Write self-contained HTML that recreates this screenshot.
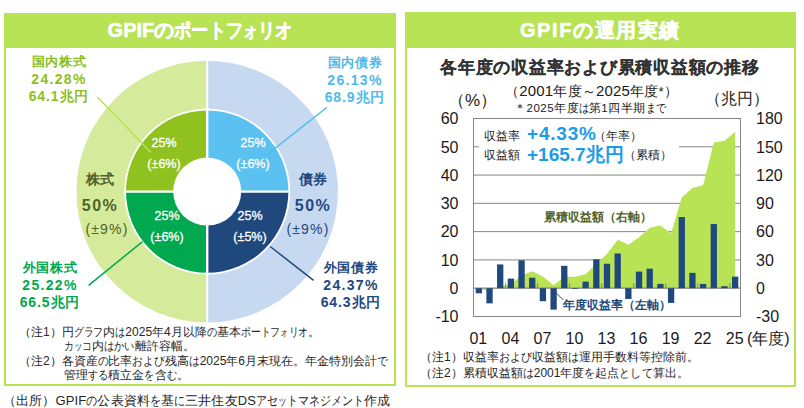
<!DOCTYPE html>
<html><head><meta charset="utf-8">
<style>
html,body{margin:0;padding:0;background:#fff;}
body{width:804px;height:408px;position:relative;overflow:hidden;font-family:"Liberation Sans",sans-serif;}
.abs,.lab,.q,.note,.yl,.yr,.xl{position:absolute;white-space:nowrap;}
.panel{position:absolute;box-sizing:border-box;border:2px solid #B7E354;}
.hdr{position:absolute;background:#B7E354;color:#fff;font-weight:bold;text-align:center;white-space:nowrap;-webkit-text-stroke:0.5px #fff;}
svg{position:absolute;left:0;top:0;}
.k1{font-size:13px;letter-spacing:0.6px;}
.d1{letter-spacing:1.3px;}
.d2{letter-spacing:0.9px;}
i{font-style:normal;display:inline-block;transform-origin:0 50%;}
.yl{left:400px;width:58.5px;text-align:right;font-size:16px;line-height:20px;color:#1a1a1a;}
.yr{left:756px;text-align:left;font-size:16px;line-height:20px;color:#1a1a1a;}
.xl{top:329px;width:40px;text-align:center;font-size:16px;line-height:20px;color:#1a1a1a;}
</style></head><body>
<div class="panel" style="left:4px;top:13px;width:392px;height:373px;"></div>
<div class="hdr" style="left:4px;top:13px;width:392px;height:35px;font-size:20px;line-height:35px;">GPIFの<i style="width:0.86em;transform:scaleX(0.86)">ポ</i><i style="width:0.86em;transform:scaleX(0.86)">ー</i><i style="width:0.86em;transform:scaleX(0.86)">ト</i><i style="width:0.86em;transform:scaleX(0.86)">フ</i><i style="width:0.75em;transform:scaleX(0.75)">ォ</i><i style="width:0.86em;transform:scaleX(0.86)">リ</i><i style="width:0.86em;transform:scaleX(0.86)">オ</i></div>
<div class="panel" style="left:405px;top:12px;width:391px;height:375px;"></div>
<div class="hdr" style="left:405px;top:12px;width:391px;height:36px;font-size:20px;line-height:37px;letter-spacing:1.6px;">GPIFの運用実績</div>
<svg width="804" height="408" viewBox="0 0 804 408">
<path d="M207.20,191.60 L207.20,60.80 A130.8,130.8 0 0 0 207.20,322.40 Z" fill="#D5EB9B"/>
<path d="M207.20,191.60 L207.20,322.40 A130.8,130.8 0 0 0 207.20,60.80 Z" fill="#C6D9F1"/>
<line x1="207.2" y1="59.79999999999998" x2="207.2" y2="323.4" stroke="#fff" stroke-width="2"/>
<circle cx="207.2" cy="191.6" r="83.0" fill="#fff"/>
<path d="M207.20,191.60 L207.20,110.40 A81.2,81.2 0 0 0 126.00,191.60 Z" fill="#8FC21F"/>
<path d="M207.20,191.60 L288.40,191.60 A81.2,81.2 0 0 0 207.20,110.40 Z" fill="#5BC1F0"/>
<path d="M207.20,191.60 L126.00,191.60 A81.2,81.2 0 0 0 207.20,272.80 Z" fill="#00A84F"/>
<path d="M207.20,191.60 L207.20,272.80 A81.2,81.2 0 0 0 288.40,191.60 Z" fill="#1F487D"/>
<line x1="207.2" y1="108.6" x2="207.2" y2="274.6" stroke="#fff" stroke-width="2.4"/>
<line x1="124.19999999999999" y1="191.6" x2="290.2" y2="191.6" stroke="#fff" stroke-width="2.4"/>
<circle cx="207.2" cy="191.6" r="34.0" fill="#fff"/>
<line x1="97.2" y1="96.7" x2="150.6" y2="152.3" stroke="#B7E354" stroke-width="1.5"/>
<line x1="326.8" y1="107.5" x2="266.8" y2="154.8" stroke="#55BBEE" stroke-width="1.5"/>
<line x1="88.6" y1="285.3" x2="142.5" y2="241.7" stroke="#00A84F" stroke-width="1.5"/>
<line x1="270.2" y1="246.5" x2="313.6" y2="280.3" stroke="#1F487D" stroke-width="1.5"/>
<line x1="473.5" y1="118.49" x2="740.5" y2="118.49" stroke="#868686" stroke-width="1"/>
<line x1="473.5" y1="146.77" x2="740.5" y2="146.77" stroke="#868686" stroke-width="1"/>
<line x1="473.5" y1="175.06" x2="740.5" y2="175.06" stroke="#868686" stroke-width="1"/>
<line x1="473.5" y1="203.34" x2="740.5" y2="203.34" stroke="#868686" stroke-width="1"/>
<line x1="473.5" y1="231.63" x2="740.5" y2="231.63" stroke="#868686" stroke-width="1"/>
<line x1="473.5" y1="259.91" x2="740.5" y2="259.91" stroke="#868686" stroke-width="1"/>
<line x1="473.5" y1="316.49" x2="740.5" y2="316.49" stroke="#868686" stroke-width="1"/>
<polygon points="478.84,288.20 478.84,288.76 489.52,291.07 500.20,286.46 510.88,283.99 521.56,275.53 532.24,271.32 542.92,276.53 553.60,285.34 564.28,276.69 574.96,276.72 585.64,274.26 596.32,263.68 607.00,254.05 617.68,239.63 628.36,244.66 639.04,237.18 649.72,227.68 660.40,225.43 671.08,233.24 681.76,197.60 692.44,188.09 703.12,185.32 713.80,142.50 724.48,140.87 735.16,131.97 735.16,288.20" fill="#B7E354"/>
<rect x="479" y="124" width="200" height="44" fill="#fff"/>
<rect x="473.5" y="118.5" width="267.0" height="198.0" fill="none" stroke="#868686" stroke-width="1"/>
<line x1="473.5" y1="288.2" x2="740.5" y2="288.2" stroke="#868686" stroke-width="1.2"/>
<line x1="505.54" y1="283.2" x2="505.54" y2="288.2" stroke="#868686" stroke-width="1"/>
<line x1="537.58" y1="283.2" x2="537.58" y2="288.2" stroke="#868686" stroke-width="1"/>
<line x1="569.62" y1="283.2" x2="569.62" y2="288.2" stroke="#868686" stroke-width="1"/>
<line x1="601.66" y1="283.2" x2="601.66" y2="288.2" stroke="#868686" stroke-width="1"/>
<line x1="633.70" y1="283.2" x2="633.70" y2="288.2" stroke="#868686" stroke-width="1"/>
<line x1="665.74" y1="283.2" x2="665.74" y2="288.2" stroke="#868686" stroke-width="1"/>
<line x1="697.78" y1="283.2" x2="697.78" y2="288.2" stroke="#868686" stroke-width="1"/>
<line x1="729.82" y1="283.2" x2="729.82" y2="288.2" stroke="#868686" stroke-width="1"/>
<rect x="475.69" y="288.20" width="6.3" height="5.09" fill="#1F497D"/>
<rect x="486.37" y="288.20" width="6.3" height="15.16" fill="#1F497D"/>
<rect x="497.05" y="264.44" width="6.3" height="23.76" fill="#1F497D"/>
<rect x="507.73" y="278.61" width="6.3" height="9.59" fill="#1F497D"/>
<rect x="518.41" y="260.25" width="6.3" height="27.95" fill="#1F497D"/>
<rect x="529.09" y="277.73" width="6.3" height="10.47" fill="#1F497D"/>
<rect x="539.77" y="288.20" width="6.3" height="12.98" fill="#1F497D"/>
<rect x="550.45" y="288.20" width="6.3" height="21.41" fill="#1F497D"/>
<rect x="561.13" y="265.83" width="6.3" height="22.37" fill="#1F497D"/>
<rect x="571.81" y="288.20" width="6.3" height="0.71" fill="#1F497D"/>
<rect x="582.49" y="281.64" width="6.3" height="6.56" fill="#1F497D"/>
<rect x="593.17" y="259.26" width="6.3" height="28.94" fill="#1F497D"/>
<rect x="603.85" y="263.76" width="6.3" height="24.44" fill="#1F497D"/>
<rect x="614.53" y="253.49" width="6.3" height="34.71" fill="#1F497D"/>
<rect x="625.21" y="288.20" width="6.3" height="10.78" fill="#1F497D"/>
<rect x="635.89" y="271.62" width="6.3" height="16.58" fill="#1F497D"/>
<rect x="646.57" y="268.68" width="6.3" height="19.52" fill="#1F497D"/>
<rect x="657.25" y="283.90" width="6.3" height="4.30" fill="#1F497D"/>
<rect x="667.93" y="288.20" width="6.3" height="14.71" fill="#1F497D"/>
<rect x="678.61" y="217.06" width="6.3" height="71.14" fill="#1F497D"/>
<rect x="689.29" y="272.87" width="6.3" height="15.33" fill="#1F497D"/>
<rect x="699.97" y="283.96" width="6.3" height="4.24" fill="#1F497D"/>
<rect x="710.65" y="224.08" width="6.3" height="64.12" fill="#1F497D"/>
<rect x="721.33" y="286.19" width="6.3" height="2.01" fill="#1F497D"/>
<rect x="732.01" y="276.63" width="6.3" height="11.57" fill="#1F497D"/>
<line x1="556.1" y1="292.8" x2="563.2" y2="299.9" stroke="#1F497D" stroke-width="1"/>
</svg>
<div class="lab" style="left:19px;top:53px;font-weight:bold;font-size:14px;line-height:17.6px;text-align:center;width:80px;color:#8CBF1E;"><span class="k1">国内株式</span><br><span class="d1">24.28%</span><br><span class="d2">64.1兆円</span></div>
<div class="lab" style="left:315px;top:54px;font-weight:bold;font-size:14px;line-height:17.6px;text-align:center;width:80px;color:#50B9EA;"><span class="k1">国内債券</span><br><span class="d1">26.13%</span><br><span class="d2">68.9兆円</span></div>
<div class="lab" style="left:60px;top:171px;font-weight:bold;font-size:14px;line-height:17.6px;text-align:center;width:80px;color:#4F6228;">株式</div>
<div class="lab" style="left:60px;top:195px;font-weight:bold;font-size:14px;line-height:17.6px;text-align:center;width:80px;color:#4F6228;font-size:16px;line-height:22px;letter-spacing:1.5px;">50%</div>
<div class="lab" style="left:67px;top:221px;font-weight:bold;font-size:14px;line-height:17.6px;text-align:center;width:80px;color:#4F6228;font-size:14px;font-weight:normal;letter-spacing:1.2px;">(±9%)</div>
<div class="lab" style="left:273px;top:171px;font-weight:bold;font-size:14px;line-height:17.6px;text-align:center;width:80px;color:#1F487D;">債券</div>
<div class="lab" style="left:273px;top:195px;font-weight:bold;font-size:14px;line-height:17.6px;text-align:center;width:80px;color:#1F487D;font-size:16px;line-height:22px;letter-spacing:1.5px;">50%</div>
<div class="lab" style="left:268px;top:221px;font-weight:bold;font-size:14px;line-height:17.6px;text-align:center;width:80px;color:#1F487D;font-size:14px;font-weight:normal;letter-spacing:1.2px;">(±9%)</div>
<div class="lab" style="left:10px;top:259px;font-weight:bold;font-size:14px;line-height:17.6px;text-align:center;width:80px;color:#00A84F;"><span class="k1">外国株式</span><br><span class="d1">25.22%</span><br><span class="d2">66.5兆円</span></div>
<div class="lab" style="left:311px;top:259px;font-weight:bold;font-size:14px;line-height:17.6px;text-align:center;width:80px;color:#1F487D;"><span class="k1">外国債券</span><br><span class="d1">24.37%</span><br><span class="d2">64.3兆円</span></div>
<div class="q" style="left:134px;top:132.5px;color:#fff;font-size:12.5px;line-height:21px;text-align:center;width:60px;-webkit-text-stroke:0.3px #fff;">25%<br>(±6%)</div>
<div class="q" style="left:223px;top:132.5px;color:#fff;font-size:12.5px;line-height:21px;text-align:center;width:60px;-webkit-text-stroke:0.3px #fff;">25%<br>(±6%)</div>
<div class="q" style="left:137px;top:205.5px;color:#fff;font-size:12.5px;line-height:21px;text-align:center;width:60px;-webkit-text-stroke:0.3px #fff;">25%<br>(±6%)</div>
<div class="q" style="left:220px;top:205.5px;color:#fff;font-size:12.5px;line-height:21px;text-align:center;width:60px;-webkit-text-stroke:0.3px #fff;">25%<br>(±5%)</div>
<div class="note" style="left:19px;top:325px;font-size:12px;line-height:14px;color:#262626;">（注1）円<i style="width:0.82em;transform:scaleX(0.82)">グ</i><i style="width:0.82em;transform:scaleX(0.82)">ラ</i><i style="width:0.82em;transform:scaleX(0.82)">フ</i>内<i style="width:0.85em;transform:scaleX(0.85)">は</i>2025年4月以降<i style="width:0.85em;transform:scaleX(0.85)">の</i>基本<i style="width:0.82em;transform:scaleX(0.82)">ポ</i><i style="width:0.82em;transform:scaleX(0.82)">ー</i><i style="width:0.82em;transform:scaleX(0.82)">ト</i><i style="width:0.82em;transform:scaleX(0.82)">フ</i><i style="width:0.7em;transform:scaleX(0.7)">ォ</i><i style="width:0.82em;transform:scaleX(0.82)">リ</i><i style="width:0.82em;transform:scaleX(0.82)">オ</i>。</div>
<div class="note" style="left:64px;top:339px;font-size:12px;line-height:14px;color:#262626;"><i style="width:0.82em;transform:scaleX(0.82)">カ</i><i style="width:0.7em;transform:scaleX(0.7)">ッ</i><i style="width:0.82em;transform:scaleX(0.82)">コ</i>内<i style="width:0.85em;transform:scaleX(0.85)">は</i><i style="width:0.85em;transform:scaleX(0.85)">か</i><i style="width:0.85em;transform:scaleX(0.85)">い</i>離許容幅。</div>
<div class="note" style="left:19px;top:354px;font-size:12px;line-height:14px;color:#262626;">（注2）各資産<i style="width:0.9em;transform:scaleX(0.9)">の</i>比率<i style="width:0.9em;transform:scaleX(0.9)">お</i><i style="width:0.9em;transform:scaleX(0.9)">よ</i><i style="width:0.9em;transform:scaleX(0.9)">び</i>残高<i style="width:0.9em;transform:scaleX(0.9)">は</i>2025年6月末現在。年金特別会計<i style="width:0.9em;transform:scaleX(0.9)">で</i></div>
<div class="note" style="left:64px;top:368px;font-size:12px;line-height:14px;color:#262626;">管理<i style="width:0.85em;transform:scaleX(0.85)">す</i><i style="width:0.85em;transform:scaleX(0.85)">る</i>積立金<i style="width:0.85em;transform:scaleX(0.85)">を</i>含<i style="width:0.85em;transform:scaleX(0.85)">む</i>。</div>
<div class="note" style="left:3px;top:393.5px;font-size:12px;line-height:14px;color:#262626;font-size:13px;letter-spacing:0.13px;">（出所）GPIF<i style="width:0.85em;transform:scaleX(0.85)">の</i>公表資料<i style="width:0.85em;transform:scaleX(0.85)">を</i>基<i style="width:0.85em;transform:scaleX(0.85)">に</i>三井住友DS<i style="width:0.85em;transform:scaleX(0.85)">ア</i><i style="width:0.85em;transform:scaleX(0.85)">セ</i><i style="width:0.68em;transform:scaleX(0.68)">ッ</i><i style="width:0.85em;transform:scaleX(0.85)">ト</i><i style="width:0.85em;transform:scaleX(0.85)">マ</i><i style="width:0.85em;transform:scaleX(0.85)">ネ</i><i style="width:0.85em;transform:scaleX(0.85)">ジ</i><i style="width:0.85em;transform:scaleX(0.85)">メ</i><i style="width:0.85em;transform:scaleX(0.85)">ン</i><i style="width:0.85em;transform:scaleX(0.85)">ト</i>作成</div>
<div class="abs" style="left:440px;top:56px;font-size:17px;letter-spacing:0.76px;font-weight:bold;color:#333;-webkit-text-stroke:0.15px #333;">各年度の収益率および累積収益額の推移</div>
<div class="abs" style="left:505px;top:82px;font-size:13.5px;color:#1a1a1a;letter-spacing:0.2px;">（<span style="font-size:15px">2001</span>年度～<span style="font-size:15px">2025</span>年度*）</div>
<div class="abs" style="left:514px;top:101px;font-size:11.5px;color:#1a1a1a;letter-spacing:0.5px;">＊2025年度<i style="width:0.85em;transform:scaleX(0.85)">は</i>第1四半期<i style="width:0.85em;transform:scaleX(0.85)">ま</i><i style="width:0.85em;transform:scaleX(0.85)">で</i></div>
<div class="abs" style="left:448px;top:89px;font-size:17px;color:#1a1a1a;">（%）</div>
<div class="abs" style="left:705px;top:89px;font-size:16px;color:#1a1a1a;">（兆円）</div>
<div class="yl" style="top:109.2px">60</div>
<div class="yl" style="top:137.5px">50</div>
<div class="yl" style="top:165.8px">40</div>
<div class="yl" style="top:194.0px">30</div>
<div class="yl" style="top:222.3px">20</div>
<div class="yl" style="top:250.6px">10</div>
<div class="yl" style="top:278.9px">0</div>
<div class="yl" style="top:307.2px">-10</div>
<div class="yr" style="top:109.2px">180</div>
<div class="yr" style="top:137.5px">150</div>
<div class="yr" style="top:165.8px">120</div>
<div class="yr" style="top:194.0px">90</div>
<div class="yr" style="top:222.3px">60</div>
<div class="yr" style="top:250.6px">30</div>
<div class="yr" style="top:278.9px">0</div>
<div class="yr" style="top:307.2px">-30</div>
<div class="xl" style="left:458.3px">01</div>
<div class="xl" style="left:490.4px">04</div>
<div class="xl" style="left:522.4px">07</div>
<div class="xl" style="left:554.5px">10</div>
<div class="xl" style="left:586.5px">13</div>
<div class="xl" style="left:618.5px">16</div>
<div class="xl" style="left:650.6px">19</div>
<div class="xl" style="left:682.6px">22</div>
<div class="xl" style="left:714.7px">25</div>
<div class="abs" style="left:747px;top:329px;font-size:16px;color:#1a1a1a;">(年度)</div>
<div class="abs" style="left:484px;top:128px;font-size:12px;color:#262626;">収益率</div>
<div class="abs" style="left:527px;top:123px;font-size:19px;font-weight:bold;color:#1E9BE6;letter-spacing:0.8px;">+4.33%</div>
<div class="abs" style="left:594px;top:128px;font-size:12px;color:#262626;">（年率）</div>
<div class="abs" style="left:484px;top:147px;font-size:12px;color:#262626;">収益額</div>
<div class="abs" style="left:527px;top:142px;font-size:19px;font-weight:bold;color:#1E9BE6;">+165.7兆円</div>
<div class="abs" style="left:624px;top:147px;font-size:12px;color:#262626;">（累積）</div>
<div class="abs" style="left:544px;top:209px;font-size:12px;font-weight:bold;color:#4F6228;">累積収益額（右軸）</div>
<div class="abs" style="left:563px;top:297px;font-size:12px;font-weight:bold;color:#1F487D;">年度収益率（左軸）</div>
<div class="note" style="left:420px;top:350px;font-size:12px;line-height:14px;color:#262626;">（注1）収益率<i style="width:0.92em;transform:scaleX(0.92)">お</i><i style="width:0.92em;transform:scaleX(0.92)">よ</i><i style="width:0.92em;transform:scaleX(0.92)">び</i>収益額<i style="width:0.92em;transform:scaleX(0.92)">は</i>運用手数料等控除前。</div>
<div class="note" style="left:420px;top:366px;font-size:12px;line-height:14px;color:#262626;">（注2）累積収益額<i style="width:0.92em;transform:scaleX(0.92)">は</i>2001年度<i style="width:0.92em;transform:scaleX(0.92)">を</i>起点<i style="width:0.92em;transform:scaleX(0.92)">と</i><i style="width:0.92em;transform:scaleX(0.92)">し</i><i style="width:0.92em;transform:scaleX(0.92)">て</i>算出。</div>
</body></html>
